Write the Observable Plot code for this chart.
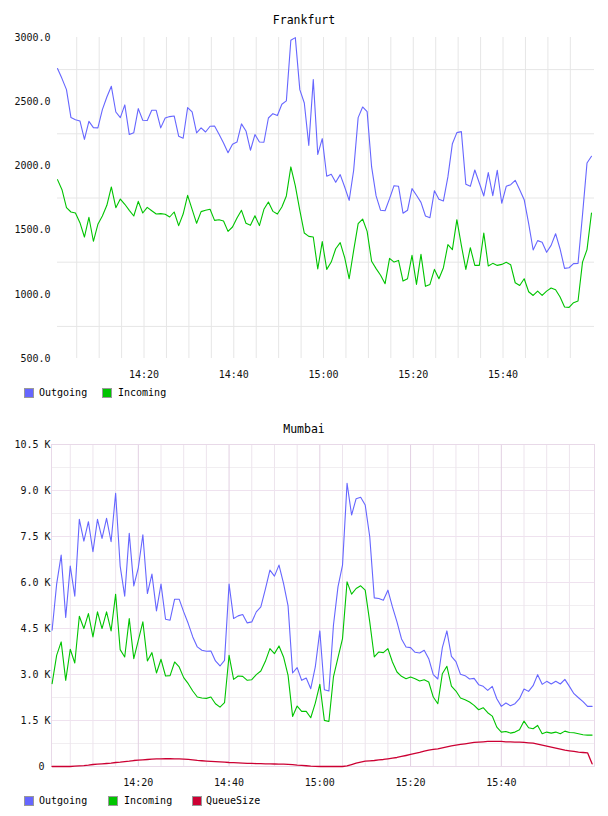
<!DOCTYPE html>
<html><head><meta charset="utf-8">
<script src="https://cdn.jsdelivr.net/npm/d3@7"></script>
<script src="https://cdn.jsdelivr.net/npm/@observablehq/plot@0.6"></script>
<style>
body{margin:0;background:#fff;font-family:"DejaVu Sans Mono",monospace;}
#page{position:relative;width:608px;height:816px;overflow:hidden;}
.title{position:absolute;left:0;width:608px;text-align:center;font-size:11.5px;line-height:13px;color:#000;}
.chart{position:absolute;left:0;}
.leg{position:absolute;font-size:10px;line-height:11px;color:#000;white-space:nowrap;}
.sw{position:absolute;width:10px;height:10px;box-sizing:border-box;border:1px solid #999;}
</style></head>
<body><div id="page"></div>
<script>
// ---------- data ----------
const frankfurtStart = "2020-01-01T14:00:43Z";
const mumbaiStart = "2020-01-01T14:01:00Z";
const stepMinutes = 1;

const frankfurtOutgoing = [
2758,2680,2594,2376,2360,2350,2207,2347,2298,2296,
2438,2537,2620,2420,2376,2475,2244,2259,2446,2355,
2353,2433,2433,2296,2373,2384,2389,2231,2215,2454,
2420,2257,2296,2264,2309,2311,2246,2179,2103,2168,
2186,2327,2272,2122,2244,2186,2184,2373,2407,2392,
2480,2506,2978,2999,2594,2490,2160,2672,2090,2212,
1919,1935,1872,1932,1836,1732,1966,2376,2459,2423,
1992,1766,1654,1651,1745,1846,1841,1631,1654,1823,
1771,1716,1610,1597,1807,1740,1727,1914,2173,2259,
2267,1857,1841,1968,1867,1766,1948,1768,1966,1709,
1841,1854,1888,1815,1737,1550,1345,1418,1405,1327,
1381,1472,1353,1202,1207,1239,1241,1620,2023,2075];

const frankfurtIncoming = [
1893,1815,1675,1641,1633,1558,1446,1600,1413,1545,
1610,1693,1836,1675,1742,1701,1654,1610,1724,1633,
1677,1651,1625,1628,1623,1602,1641,1535,1625,1771,
1662,1553,1644,1654,1662,1576,1581,1571,1490,1524,
1594,1654,1553,1537,1612,1535,1662,1719,1646,1625,
1680,1766,1992,1844,1654,1477,1451,1446,1197,1410,
1194,1251,1355,1402,1285,1121,1342,1550,1586,1490,
1257,1200,1148,1083,1280,1251,1264,1103,1121,1303,
1077,1311,1062,1077,1194,1121,1207,1387,1348,1581,
1381,1194,1363,1225,1225,1477,1220,1241,1225,1233,
1249,1230,1090,1069,1121,1020,991,1025,991,1025,
1049,1036,979,901,898,935,948,1251,1348,1633];

const mumbaiOutgoing = [
4443,5946,6893,4857,6534,5554,8059,7351,7983,7002,
8059,7438,8091,7329,8908,6534,5554,7601,5891,6480,
7558,5641,6273,5075,5946,4802,4770,5456,5456,5042,
4661,4225,3899,3790,3757,3768,3441,3278,3463,5946,
4824,4911,4955,4683,4715,5042,5205,5783,6403,6207,
6567,5968,5238,3049,3223,2810,2886,2537,3245,4421,
2505,2462,4606,5859,6567,9235,8200,8734,8777,8527,
7492,5499,5478,5423,5750,5205,4715,4160,3899,3877,
3724,3703,3790,3517,2995,2853,3877,4421,3594,3419,
3006,2962,2853,2875,2668,2614,2483,2614,2211,1960,
2069,1982,2047,2211,2526,2450,2635,2995,2679,2777,
2690,2777,2690,2842,2614,2374,2243,2113,1960,1960];

const mumbaiIncoming = [
2701,3626,4062,2810,3822,3376,4901,4498,4988,4225,
5042,4498,5042,4421,5619,3812,3572,4824,3517,4116,
4715,3441,3713,3049,3496,2951,2962,3409,3245,2897,
2701,2461,2265,2232,2222,2265,2047,1938,2080,3626,
2842,2951,2940,2810,2831,2995,3115,3430,3844,3681,
3931,3572,2973,1633,1971,1797,1797,1590,2069,2679,
1503,1470,2919,3550,4171,6022,5619,5804,5891,5750,
4715,3572,3735,3713,3844,3409,3082,2940,2864,2919,
2864,2788,2831,2755,2265,2047,3027,3267,2624,2461,
2232,2178,2102,1993,1851,1917,1753,1644,1285,1122,
1143,1089,1122,1198,1481,1263,1231,1339,1067,1122,
1089,1122,1067,1154,1111,1100,1067,1035,1024,1024];

const mumbaiQueueSize = [
0,0,0,0,0,10,20,30,45,65,
75,87,98,110,130,142,160,175,195,205,
218,228,240,248,250,252,252,250,250,240,
230,218,200,188,178,168,160,150,140,130,
125,118,112,105,100,95,92,88,85,82,
80,75,70,60,45,35,25,12,5,0,
0,0,0,0,0,22,65,109,142,174,
185,196,218,229,250,272,294,327,359,392,
425,457,501,534,555,577,610,642,675,697,
719,740,762,784,795,806,817,817,817,817,
806,806,795,795,784,773,762,730,697,664,
632,599,566,534,512,490,468,457,446,87];

const xTickLabels = ["14:20","14:40","15:00","15:20","15:40"];
const xMinorLabels = ["14:05","14:10","14:15","14:20","14:25","14:30","14:35","14:40","14:45","14:50","14:55",
  "15:00","15:05","15:10","15:15","15:20","15:25","15:30","15:35","15:40","15:45","15:50","15:55"];
const frankfurtYTicks = [500,1000,1500,2000,2500,3000];
const frankfurtYGrid = [750,1250,1750,2250,2750];
const mumbaiYTicks = [0,1500,3000,4500,6000,7500,9000,10500];
const mumbaiYLabels = ["0","1.5 K","3.0 K","4.5 K","6.0 K","7.5 K","9.0 K","10.5 K"];
const mumbaiYMinor = [750,2250,3750,5250,6750,8250,9750];

const colors = {Outgoing:"#6666ff", Incoming:"#00c400", QueueSize:"#cc0033"};

// ---------- helpers ----------
const hm = s => new Date("2020-01-01T" + s + ":00Z");
const rows = (start, arr) => arr.map((v,i)=>({t:new Date(+new Date(start) + i*stepMinutes*60000), v}));
const fmt = d3.utcFormat("%H:%M");
const page = document.getElementById("page");

function addTitle(text, top){
  const d = document.createElement("div"); d.className="title"; d.style.top=top+"px"; d.textContent=text; page.appendChild(d);
}
function addLegend(items, top, lefts){
  items.forEach((name,i)=>{
    const s=document.createElement("div"); s.className="sw"; s.style.left=lefts[i][0]+"px"; s.style.top=top+"px"; s.style.background=colors[name]; page.appendChild(s);
    const t=document.createElement("div"); t.className="leg"; t.style.left=lefts[i][1]+"px"; t.style.top=(top-0.5)+"px"; t.textContent=name; page.appendChild(t);
  });
}
function place(svg, top){
  const w=document.createElement("div"); w.className="chart"; w.style.top=top+"px"; w.appendChild(svg); page.appendChild(w);
}

// ---------- Frankfurt ----------
addTitle("Frankfurt", 14);
const fOut = rows(frankfurtStart, frankfurtOutgoing);
const fIn = rows(frankfurtStart, frankfurtIncoming);
const f = Plot.plot({
  width:608, height:353, marginTop:7, marginBottom:25, marginLeft:57, marginRight:14,
  style:{fontFamily:"DejaVu Sans Mono", fontSize:"10px", color:"#111", background:"#fff"},
  x:{type:"utc", domain:[new Date(frankfurtStart), new Date(+new Date(frankfurtStart)+119.67*60000)]},
  y:{domain:[500,3000]},
  marks:[
    Plot.gridY(frankfurtYGrid, {stroke:"#e6e6e6", strokeOpacity:1}),
    Plot.gridX(xMinorLabels.map(hm), {stroke:"#e6e6e6", strokeOpacity:1}),
    Plot.axisY(frankfurtYTicks, {tickSize:0, tickPadding:7, tickFormat:d=>d.toFixed(1), label:null}),
    Plot.axisX(xTickLabels.map(hm), {tickSize:0, tickPadding:12, tickFormat:fmt, label:null}),
    Plot.line(fOut, {x:"t", y:"v", stroke:colors.Outgoing, strokeWidth:1.1}),
    Plot.line(fIn, {x:"t", y:"v", stroke:colors.Incoming, strokeWidth:1.1})
  ]
});
place(f, 30);
addLegend(["Outgoing","Incoming"], 387.5, [[24,39],[102,118]]);

// ---------- Mumbai ----------
addTitle("Mumbai", 422.5);
const mOut = rows(mumbaiStart, mumbaiOutgoing);
const mIn = rows(mumbaiStart, mumbaiIncoming);
const mQ = rows(mumbaiStart, mumbaiQueueSize);
const m = Plot.plot({
  width:608, height:354, marginTop:8, marginBottom:24, marginLeft:51, marginRight:14,
  style:{fontFamily:"DejaVu Sans Mono", fontSize:"10px", color:"#111", background:"#fff"},
  x:{type:"utc", domain:[new Date(+new Date(mumbaiStart)-8000), new Date(+new Date(mumbaiStart)+119.53*60000)]},
  y:{domain:[0,10500]},
  marks:[
    Plot.gridY(mumbaiYMinor, {stroke:"#f1eef1", strokeOpacity:1}),
    Plot.gridX(xMinorLabels.filter(s=>!xTickLabels.includes(s)).map(hm), {stroke:"#ede4ed", strokeOpacity:1}),
    Plot.gridY(mumbaiYTicks, {stroke:"#efe2ef", strokeOpacity:1}),
    Plot.gridX(xTickLabels.map(hm), {stroke:"#e2d0e2", strokeOpacity:1}),
    Plot.frame({stroke:"#e8d9e8"}),
    Plot.axisY(mumbaiYTicks.slice(1), {tickSize:0, tickPadding:1, tickFormat:d=>mumbaiYLabels[mumbaiYTicks.indexOf(d)], label:null}),
    Plot.axisY(mumbaiYTicks.slice(0,1), {tickSize:0, tickPadding:7, tickFormat:d=>mumbaiYLabels[mumbaiYTicks.indexOf(d)], label:null}),
    Plot.axisX(xTickLabels.map(hm), {tickSize:0, tickPadding:12, tickFormat:fmt, label:null}),
    Plot.line(mOut, {x:"t", y:"v", stroke:colors.Outgoing, strokeWidth:1.1}),
    Plot.line(mIn, {x:"t", y:"v", stroke:colors.Incoming, strokeWidth:1.1}),
    Plot.line(mQ, {x:"t", y:"v", stroke:colors.QueueSize, strokeWidth:1.3})
  ]
});
place(m, 436);
addLegend(["Outgoing","Incoming","QueueSize"], 795.5, [[24,39],[108,124],[192,206]]);
</script>
</body></html>
